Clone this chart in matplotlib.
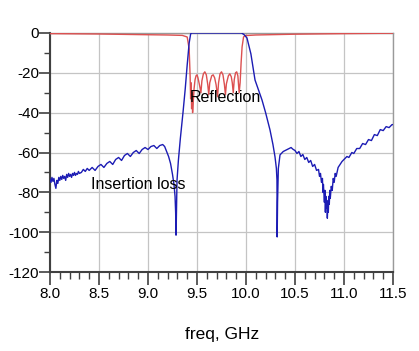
import matplotlib
matplotlib.use("Agg")
import matplotlib.pyplot as plt
from matplotlib.ticker import MultipleLocator
from matplotlib import font_manager

plt.rcParams['font.family'] = ['Liberation Sans', 'DejaVu Sans']

_names = {f.name for f in font_manager.fontManager.ttflist}
if 'Liberation Sans Narrow' in _names:
    tick_family, tick_size = ['Liberation Sans Narrow', 'Liberation Sans'], 13.5
else:
    tick_family, tick_size = ['Liberation Sans', 'DejaVu Sans'], 11

# Insertion loss (S21), GHz / dB
il_freq = [8.00, 8.01, 8.02, 8.03, 8.04, 8.05, 8.06, 8.07, 8.08, 8.09,
           8.10, 8.11, 8.12, 8.13, 8.14, 8.15, 8.16, 8.17, 8.18, 8.19,
           8.20, 8.21, 8.22, 8.23, 8.24, 8.25, 8.26, 8.27, 8.28, 8.29,
           8.30, 8.32, 8.34, 8.36, 8.38, 8.40, 8.43, 8.46, 8.49, 8.52,
           8.55, 8.58, 8.61, 8.64, 8.67, 8.70, 8.73, 8.76, 8.79, 8.82,
           8.85, 8.88, 8.91, 8.94, 8.97, 9.00, 9.03, 9.06, 9.09, 9.12,
           9.15, 9.17, 9.19, 9.21, 9.23, 9.25, 9.265, 9.276, 9.282, 9.286,
           9.288, 9.292, 9.296, 9.31, 9.33, 9.357, 9.38, 9.40, 9.42, 9.435,
           9.445, 9.70, 9.955, 9.98, 10.01, 10.05, 10.092, 10.13, 10.163, 10.20,
           10.245, 10.275, 10.296, 10.31, 10.316, 10.318, 10.322, 10.33, 10.347, 10.38,
           10.42, 10.46, 10.48, 10.50, 10.52, 10.54, 10.56, 10.58, 10.60, 10.62,
           10.64, 10.66, 10.68, 10.70, 10.72, 10.74, 10.75, 10.76, 10.77, 10.78,
           10.785, 10.79, 10.80, 10.805, 10.81, 10.815, 10.82, 10.825, 10.83, 10.835,
           10.84, 10.845, 10.85, 10.855, 10.86, 10.87, 10.88, 10.89, 10.90, 10.91,
           10.92, 10.94, 10.96, 10.98, 11.00, 11.03, 11.05, 11.08, 11.10, 11.13,
           11.16, 11.19, 11.22, 11.25, 11.28, 11.31, 11.34, 11.37, 11.40, 11.43,
           11.46, 11.49, 11.50]
il_db = [-73.5, -75.0, -72.5, -74.5, -73.0, -76.0, -78.0, -74.0, -75.5, -72.5,
         -74.0, -72.0, -73.5, -71.5, -73.0, -72.0, -74.0, -71.0, -72.5, -70.5,
         -72.0, -71.0, -72.5, -70.5, -71.5, -70.0, -71.5, -70.5, -71.0, -69.5,
         -70.5, -70.0, -68.5, -69.5, -68.0, -69.0, -67.5, -69.0, -67.0, -66.0,
         -67.5, -65.5, -64.5, -66.0, -63.5, -62.5, -64.0, -61.5, -60.5, -62.0,
         -60.0, -59.0, -60.5, -58.5, -57.5, -58.5, -57.0, -56.5, -58.0, -56.5,
         -56.0, -57.0, -59.5, -62.0, -65.5, -71.0, -76.0, -82.0, -90.0, -101.5,
         -97.0, -85.0, -74.0, -64.0, -53.0, -40.0, -28.0, -16.0, -5.0, -0.5,
         0.0, 0.0, 0.0, -0.8, -2.5, -10.5, -23.6, -29.0, -33.6, -40.0,
         -48.7, -56.0, -62.2, -68.0, -73.8, -102.4, -85.0, -68.0, -61.2, -59.5,
         -58.5, -57.5, -58.4, -59.0, -60.5, -59.5, -62.0, -61.0, -63.5, -62.5,
         -65.0, -64.0, -67.0, -66.0, -69.0, -68.5, -72.0, -70.5, -75.0, -73.0,
         -80.0, -76.0, -85.0, -79.0, -90.0, -82.0, -88.0, -84.0, -93.0, -86.0,
         -90.0, -82.0, -86.0, -79.0, -83.0, -77.0, -79.0, -73.0, -75.0, -70.5,
         -72.0, -67.5, -66.0, -64.5, -63.5, -62.0, -62.5, -60.0, -60.5, -58.0,
         -58.0, -55.5, -56.0, -53.5, -54.0, -51.0, -51.5, -48.5, -49.0, -47.0,
         -47.5, -46.0, -46.0]

# Reflection (S11), GHz / dB
rl_freq = [8.00, 8.50, 8.90, 9.20, 9.35, 9.40, 9.42, 9.43, 9.435, 9.44,
           9.445, 9.45, 9.455, 9.46, 9.47, 9.48, 9.49, 9.50, 9.51, 9.525,
           9.54, 9.55, 9.565, 9.58, 9.595, 9.61, 9.62, 9.63, 9.65, 9.665,
           9.68, 9.695, 9.71, 9.72, 9.735, 9.75, 9.765, 9.78, 9.79, 9.80,
           9.82, 9.835, 9.85, 9.86, 9.87, 9.88, 9.893, 9.905, 9.917, 9.93,
           9.94, 9.95, 9.96, 9.975, 9.99, 10.10, 10.50, 11.00, 11.50]
rl_db = [-0.3, -0.5, -0.8, -1.0, -1.2, -2.0, -8.0, -22.0, -33.0, -25.0,
         -38.0, -30.0, -40.0, -36.0, -28.0, -23.5, -21.5, -21.0, -22.5, -26.0,
         -30.0, -24.0, -20.5, -19.5, -21.0, -26.0, -31.0, -25.0, -21.5, -21.0,
         -22.5, -26.0, -32.0, -25.0, -20.5, -19.5, -21.0, -26.0, -31.0, -25.5,
         -21.5, -20.5, -22.0, -25.0, -30.0, -23.5, -20.0, -19.5, -21.5, -30.0,
         -25.0, -15.0, -7.0, -2.0, -1.3, -1.0, -0.6, -0.3, -0.1]

x_ticks = [8.0, 8.5, 9.0, 9.5, 10.0, 10.5, 11.0, 11.5]
x_tick_labels = ["8.0", "8.5", "9.0", "9.5", "10.0", "10.5", "11.0", "11.5"]
y_ticks = [0, -20, -40, -60, -80, -100, -120]
y_tick_labels = ["0", "-20", "-40", "-60", "-80", "-100", "-120"]

fig = plt.figure(figsize=(4.19, 3.51), dpi=100)
ax = fig.add_axes([50/419, 1-272/351, (393-50)/419, (272-33)/351])

ax.plot(rl_freq, rl_db, color='#dc5050', lw=1.0, zorder=3)
ax.plot(il_freq, il_db, color='#1c1cb4', lw=1.0, zorder=4)

ax.set_xlim(8.0, 11.5)
ax.set_ylim(-120, 0)
ax.set_xticks(x_ticks)
ax.set_xticklabels(x_tick_labels, family=tick_family, fontsize=tick_size)
ax.set_yticks(y_ticks)
ax.set_yticklabels(y_tick_labels, family=tick_family, fontsize=tick_size)
ax.xaxis.set_minor_locator(MultipleLocator(0.1))
ax.yaxis.set_minor_locator(MultipleLocator(10))
ax.grid(True, which='major', color='#c4c4c4', lw=0.9, zorder=0)
ax.set_axisbelow(True)

ax.tick_params(axis='both', which='major', color='#404040',
               width=1.2, direction='out')
ax.tick_params(axis='x', which='major', length=9, pad=2)
ax.tick_params(axis='y', which='major', length=8, pad=0)
ax.tick_params(axis='x', which='minor', length=5, width=1.0, color='#404040')
ax.tick_params(axis='y', which='minor', length=4.5, width=1.0, color='#404040')

for s in ['left', 'bottom']:
    ax.spines[s].set_color('#404040')
    ax.spines[s].set_linewidth(1.5)
for s in ['top', 'right']:
    ax.spines[s].set_color('#9a9a9a')
    ax.spines[s].set_linewidth(1.0)

ax.text(9.43, -32.6, "Reflection", fontsize=11.5, va='center', ha='left', zorder=5)
ax.text(8.42, -76.3, "Insertion loss", fontsize=11.5, va='center', ha='left', zorder=5)

fig.text(222/419, 1-335/351, "freq, GHz", family=tick_family,
         fontsize=tick_size + 1.5, ha='center', va='center')

fig.savefig("out.png", dpi=100)
